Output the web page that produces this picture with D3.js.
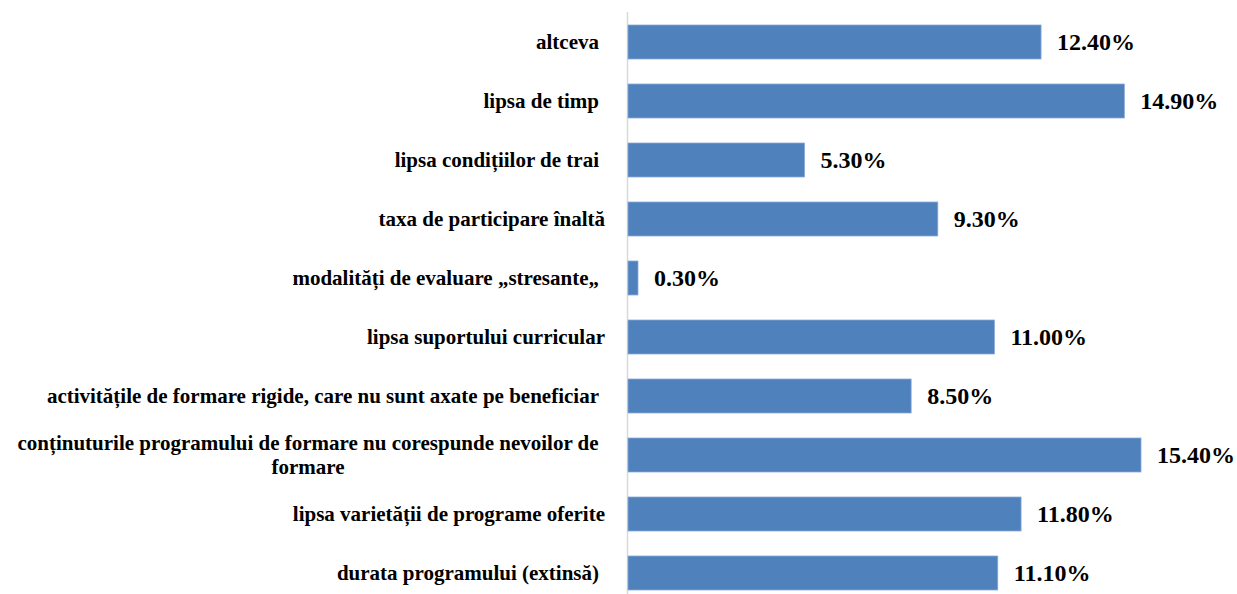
<!DOCTYPE html>
<html><head><meta charset="utf-8">
<script src="https://cdn.jsdelivr.net/npm/d3@7"></script>
<style>
html,body{margin:0;padding:0;background:#fff;}
svg text{font-family:"Liberation Serif";font-weight:bold;}
</style></head>
<body><svg id="c" width="1237" height="594" font-family="Liberation Serif"></svg>
<script>
const categories = [
  ["altceva "],
  ["lipsa de timp "],
  ["lipsa condițiilor de trai "],
  ["taxa de participare înaltă"],
  ["modalități de evaluare „stresante„ "],
  ["lipsa suportului curricular"],
  ["activitățile de formare rigide, care nu sunt axate pe beneficiar "],
  ["conținuturile programului de formare nu corespunde nevoilor de", "formare"],
  ["lipsa varietății de programe oferite"],
  ["durata programului (extinsă) "]
];
const values = [12.4, 14.9, 5.3, 9.3, 0.3, 11.0, 8.5, 15.4, 11.8, 11.1];
const valueLabels = ["12.40%", "14.90%", "5.30%", "9.30%", "0.30%", "11.00%", "8.50%", "15.40%", "11.80%", "11.10%"];

const svg = d3.select("#c");
const x0 = 628;
const x = d3.scaleLinear().domain([0, 15.4]).range([x0, 1141]);
const y = d3.scaleBand().domain(d3.range(categories.length)).range([12.5, 602.5])
  .paddingInner(0.424).paddingOuter(0.212);

svg.append("line").attr("x1", x0-0.5).attr("x2", x0-0.5).attr("y1", 12).attr("y2", 594)
  .attr("stroke", "#d9d9d9").attr("stroke-width", 1.5);

svg.selectAll("rect.bar").data(values).enter().append("rect")
  .attr("class","bar")
  .attr("x", x0)
  .attr("y", (d,i)=>y(i))
  .attr("width", d=>x(d)-x0)
  .attr("height", y.bandwidth())
  .attr("fill", "#4f81bd")
  .attr("stroke", "#8aaad6").attr("stroke-width", 0.8);

values.forEach((d,i)=>{
  svg.append("text")
    .attr("x", x(d)+16)
    .attr("y", y(i)+y.bandwidth()/2+8)
    .attr("font-family","Liberation Serif").attr("font-weight","bold")
    .attr("font-size", 24)
    .text(valueLabels[i]);
});

categories.forEach((lines,i)=>{
  const cy = y(i)+y.bandwidth()/2;
  if (lines.length === 1) {
    svg.append("text")
      .attr("x", 605 + (lines[0].endsWith(" ") ? -6 : 0))
      .attr("y", cy+7)
      .attr("text-anchor","end")
      .attr("font-family","Liberation Serif").attr("font-weight","bold")
      .attr("font-size", 21)
      .text(lines[0].trim());
  } else {
    lines.forEach((l,k)=>{
      svg.append("text")
        .attr("x", 308)
        .attr("y", cy - 5 + k*24)
        .attr("text-anchor","middle")
        .attr("font-family","Liberation Serif").attr("font-weight","bold")
        .attr("font-size", 21)
        .text(l);
    });
  }
});
</script></body></html>
